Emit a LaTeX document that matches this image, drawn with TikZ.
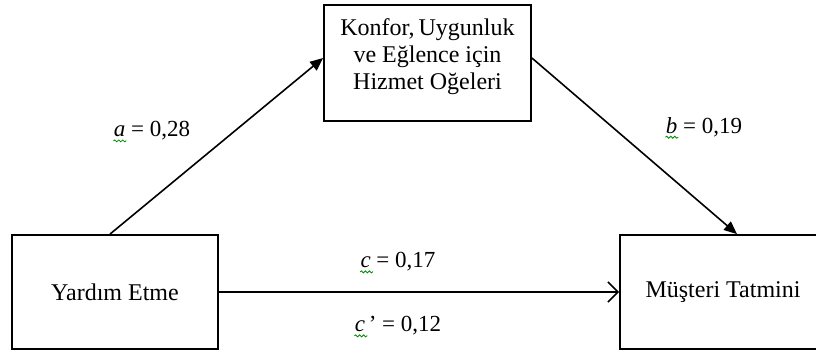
\documentclass[tikz,border=0pt]{standalone}
\usepackage{fontspec}
\setmainfont{Liberation Serif}
\usetikzlibrary{arrows.meta, positioning, decorations.pathmorphing}

\begin{document}
\begin{tikzpicture}[
        x=0.5pt, y=-0.5pt,
        font=\fontsize{12}{13.5}\selectfont,
        box/.style={draw, line width=0.9pt, minimum width=103pt, minimum height=57pt, inner sep=0pt},
        coef/.style={font=\fontsize{11.5}{13}\selectfont, inner sep=0pt},
        arrow/.style={-{Triangle[length=6.5pt, width=5.5pt]}, line width=0.8pt},
        openarrow/.style={-{Straight Barb[length=5pt, width=10pt]}, line width=0.8pt},
        spell/.style={draw=green!55!black, line width=0.4pt, decorate,
            decoration={snake, amplitude=0.5pt, segment length=2pt}}
    ]
        \useasboundingbox (0,0) rectangle (816,351);

        % the three variables
        \node[box] (yardim) at (115,292) {Yardım Etme};
        \node[box] (musteri) at (723,292) {Müşteri Tatmini};
        \node[box, minimum width=103.5pt, minimum height=58pt] (ogeler) at (427.5,63) {};
        \node[align=center] (ogelerText) at ([yshift=3pt]ogeler.center)
            {Konfor,\,Uygunluk\\ve Eğlence için\\Hizmet Oğeleri};

        % paths
        \draw[arrow] ([xshift=-2.5pt]yardim.north) -- ([yshift=2.5pt]ogeler.west);
        \draw[arrow] ([yshift=2.5pt]ogeler.east) -- ([xshift=7pt]musteri.north);
        \draw[openarrow] (yardim) -- (musteri);

        % coefficients
        \node[coef] (coefA) at (152,131) {\textit{a} = 0,28};
        \node[coef] (coefB) at (704,127) {\textit{b} = 0,19};
        \node[coef] (coefC) at (398,262) {\textit{c} = 0,17};
        \node[coef] (coefCp) at (398,326) {\textit{c}\,’ = 0,12};

        % spelling marks under the letters
        \foreach \c in {coefA, coefB, coefC, coefCp}
            \draw[spell] ([yshift=-2pt]\c.base west) -- ++(13,0);
\end{tikzpicture}
\end{document}
